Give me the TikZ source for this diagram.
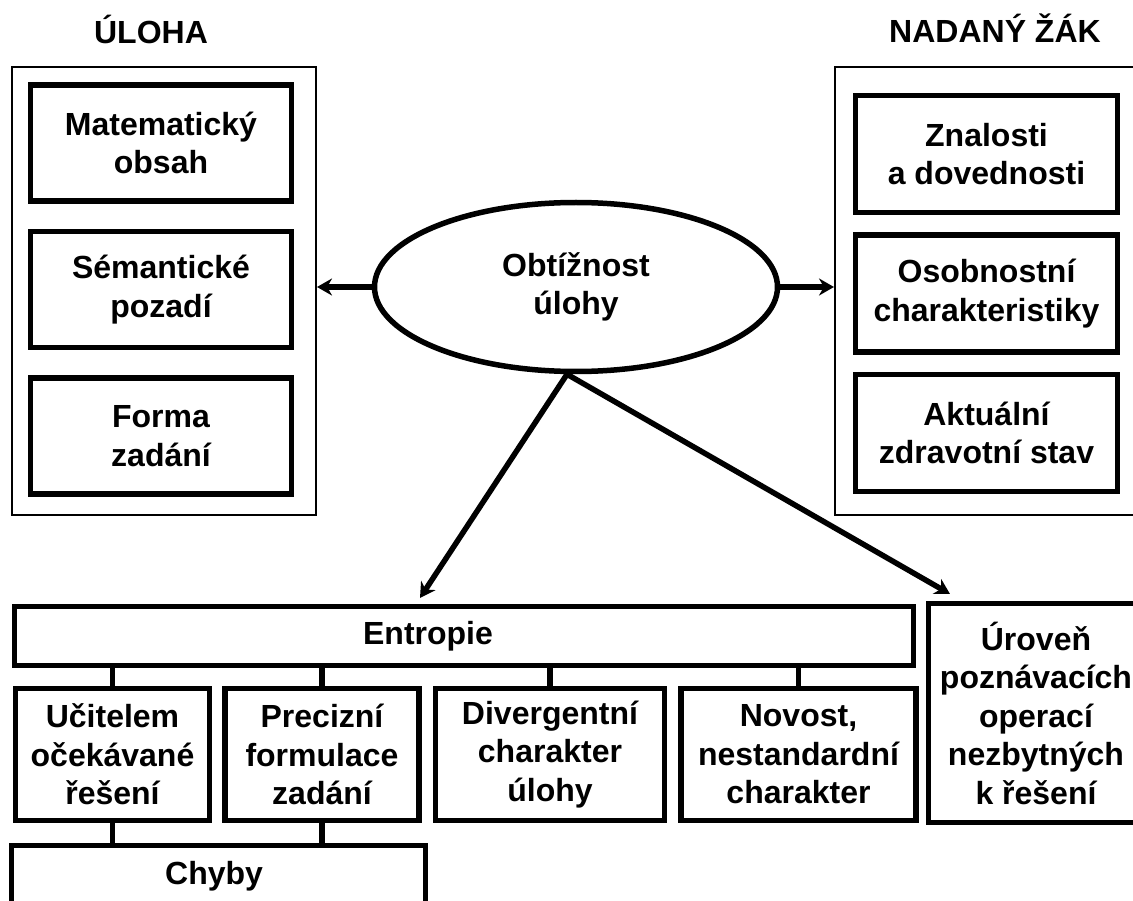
\documentclass[tikz,border=0pt]{standalone}
\usepackage{fontspec}
\setmainfont{Liberation Sans}
\usetikzlibrary{arrows.meta}
\usetikzlibrary{positioning}
\usetikzlibrary{shapes.geometric}
\tikzset{
    boldtext/.style={
           font=\bfseries\fontsize{32}{38.5}\selectfont,
           },
    state/.style={
           rectangle,
           draw=black, line width=5.5pt,
           inner sep=0pt,
           align=center,
           boldtext,
           },
    groupbox/.style={
           rectangle,
           draw=black, line width=2pt,
           inner sep=0pt,
           },
    core/.style={
           ellipse,
           draw=black, line width=5.5pt,
           inner sep=0pt,
           align=center,
           boldtext,
           },
    heading/.style={
           anchor=base,
           boldtext,
           },
}

\begin{document}
\begin{tikzpicture}
[
x=1pt,y=-1pt,
line width=5.5pt,
>={Stealth[length=15pt,width=17pt]}
]

 \useasboundingbox (0,0) rectangle (1133,901);
 \clip (0,0) rectangle (1133,901);

 % HEADINGS
 \node[heading] (HEADL) at (151,44) {ÚLOHA};
 \node[heading] (HEADR) at (995,43) {NADANÝ ŽÁK};

 % FRAME ULOHA
 \node[groupbox,
 minimum width=304pt,
 minimum height=448pt] (ULOHA) at (164,291) {};

 % FRAME ZAK
 \node[groupbox,
 minimum width=303pt,
 minimum height=448pt] (ZAK) at (986.5,291) {};

 % LEFT COLUMN
 \node[state,
 minimum width=261pt,
 minimum height=116pt] (MATH) at (161,143)
 {%
 Matematický\\obsah
 };

 \node[state,
 below=25pt of MATH,
 minimum width=261pt,
 minimum height=116pt] (SEM)
 {%
 Sémantické\\pozadí
 };

 \node[state,
 below=25pt of SEM,
 minimum width=261pt,
 minimum height=116pt] (FORMA)
 {%
 Forma\\zadání
 };

 % RIGHT COLUMN
 \node[state,
 minimum width=262pt,
 minimum height=117pt] (ZNAL) at (986.5,154)
 {%
 Znalosti\\a dovednosti
 };

 \node[state,
 below=17pt of ZNAL,
 minimum width=262pt,
 minimum height=117pt] (OSOB)
 {%
 Osobnostní\\charakteristiky
 };

 \node[state,
 below=17pt of OSOB,
 minimum width=262pt,
 minimum height=117pt] (AKT)
 {%
 Aktuální\\zdravotní stav
 };

 % ELLIPSE
 \node[core,
 minimum width=403pt,
 minimum height=169pt] (OBT) at (576,287)
 {%
 Obtížnost\\úlohy
 };

 % ENTROPIE
 \node[state,
 minimum width=899pt,
 minimum height=59pt,
 label={[boldtext,xshift=-36pt]center:Entropie}] (ENTROPIE) at (464,636) {};

 \node[state,
 minimum width=194pt,
 minimum height=132pt] (UCIT) at (112.5,754.5)
 {%
 Učitelem\\očekávané\\řešení
 };

 \node[state,
 right=10pt of UCIT,
 minimum width=194pt,
 minimum height=132pt] (PREC)
 {%
 Precizní\\formulace\\zadání
 };

 \node[state,
 right=11pt of PREC,
 minimum width=229pt,
 minimum height=132pt] (DIV)
 {%
 Divergentní\\charakter\\úlohy
 };

 \node[state,
 right=11pt of DIV,
 minimum width=235pt,
 minimum height=132pt] (NOV)
 {%
 Novost,\\nestandardní\\charakter
 };

 % CHYBY
 \node[state,
 minimum width=414pt,
 minimum height=61pt] (CHYBY) at (218.5,876)
 {%
 Chyby
 };

 % UROVEN
 \node[state,
 minimum width=215pt,
 minimum height=219pt] (UROVEN) at (1036,713)
 {%
 Úroveň\\poznávacích\\operací\\nezbytných\\k řešení
 };

 % arrow ends above the lower boxes
 \coordinate (TIPE) at (420,598);
 \coordinate (TIPU) at (950,594);

 % draw the arrows and the connecting lines
 \draw[->] (OBT.west) -- (OBT.west -| ULOHA.east);
 \draw[->] (OBT.east) -- (OBT.east -| ZAK.west);
 \draw[<->] (TIPE) -- ([xshift=-9pt]OBT.south) -- (TIPU);

 \path
  (UCIT.north) edge (UCIT.north |- ENTROPIE.south)
  (PREC.north) edge (PREC.north |- ENTROPIE.south)
  (DIV.north) edge (DIV.north |- ENTROPIE.south)
  (NOV.north) edge (NOV.north |- ENTROPIE.south)
  (UCIT.south) edge (UCIT.south |- CHYBY.north)
  (PREC.south) edge (PREC.south |- CHYBY.north)
 ;
\end{tikzpicture}
\end{document}
